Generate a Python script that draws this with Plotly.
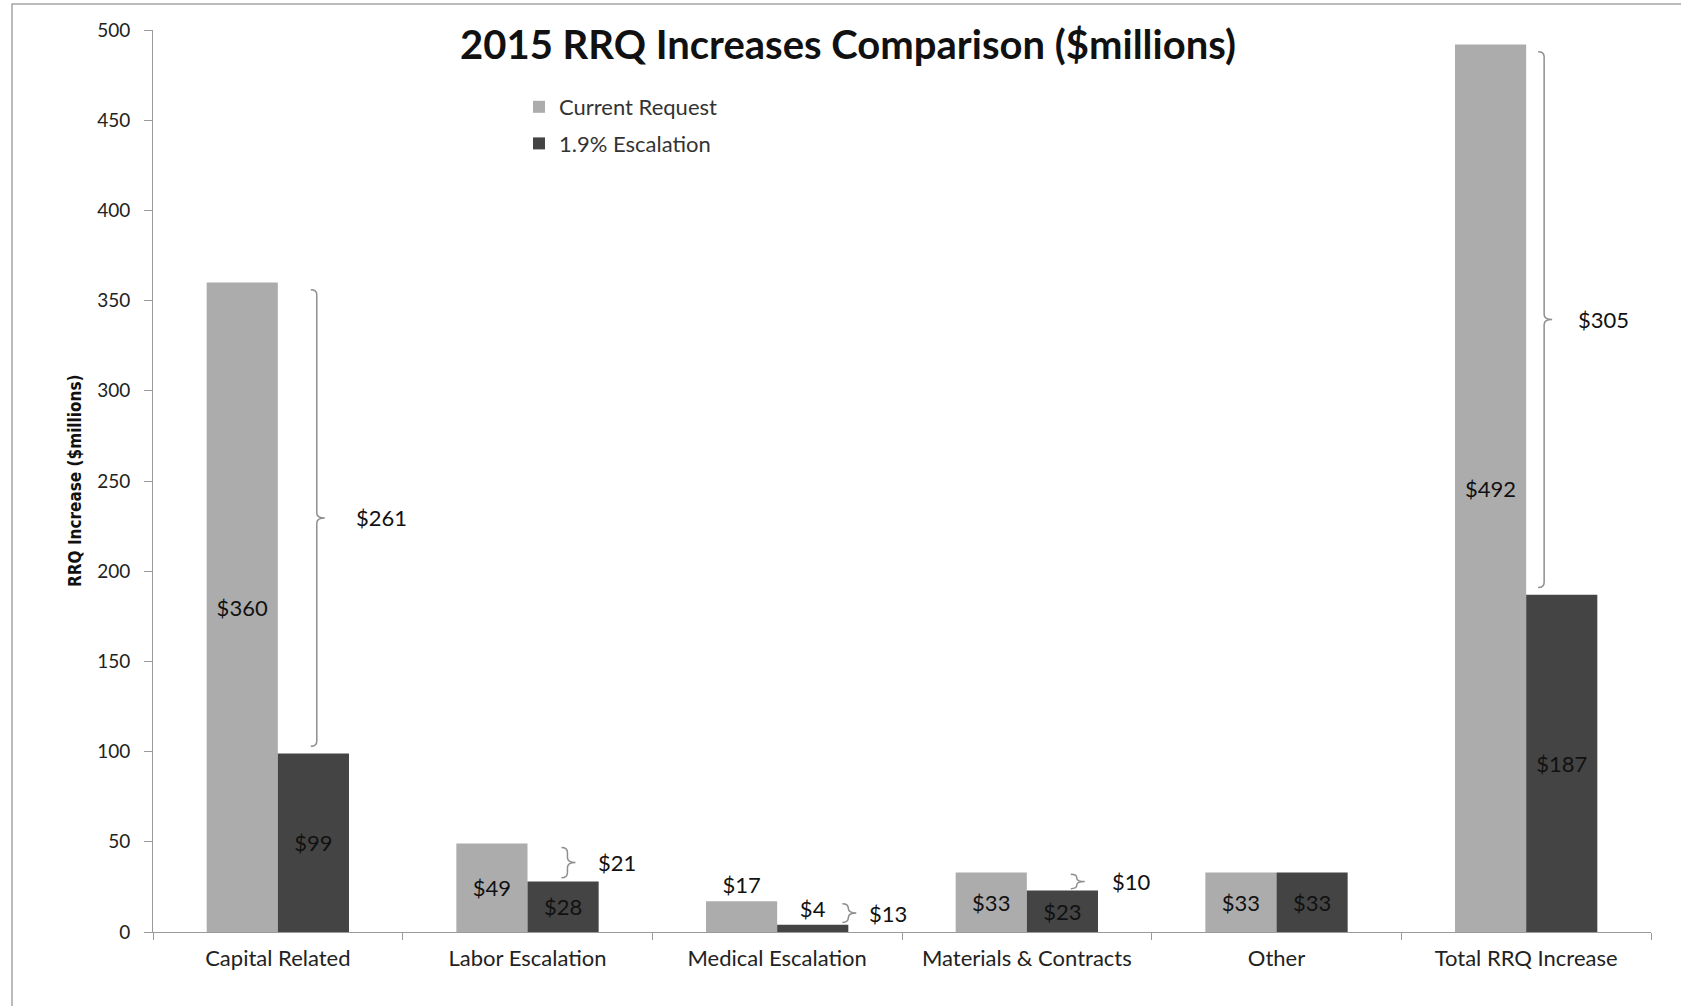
import plotly.graph_objects as go

# ---- data ----
categories = ["Capital Related", "Labor Escalation", "Medical Escalation",
              "Materials & Contracts", "Other", "Total RRQ Increase"]
current_request = [360, 49, 17, 33, 33, 492]
escalation = [99, 28, 4, 23, 33, 187]
series_names = ["Current Request", "1.9% Escalation"]
y_ticks = [0, 50, 100, 150, 200, 250, 300, 350, 400, 450, 500]

# ---- style ----
LIGHT = "#acacac"
DARK = "#444444"
BRACE = "#8f8f8f"
AXIS = "#9a9a9a"
FONT = "Lato, 'Open Sans', sans-serif"
# brace x offset from category centre (in category units) and label gap (px)
brace_offset = [0.156, 0.16, 0.285, 0.2, None, 0.072]
label_gap = [37, 29, 19, 33, None, 32]

x = list(range(len(categories)))

def text_pos(vals):
    return ["outside" if v < 20 else "inside" for v in vals]

fig = go.Figure()
fig.add_trace(go.Bar(
    x=x, y=current_request, name=series_names[0], marker_color=LIGHT,
    marker_line_width=0, legendgroup="a",
    text=[f"${v}" for v in current_request], textposition=text_pos(current_request),
    insidetextanchor="middle", textangle=0,
    textfont=dict(family=FONT, size=22, color="#111"), cliponaxis=False,
))
fig.add_trace(go.Bar(
    x=x, y=escalation, name=series_names[1], marker_color=DARK,
    marker_line_width=0, legendgroup="b",
    text=[f"${v}" for v in escalation], textposition=text_pos(escalation),
    insidetextanchor="middle", textangle=0,
    textfont=dict(family=FONT, size=22, color="#111"), cliponaxis=False,
))

# ---- braces showing difference ----
px_per_x = 1498 / 6.0
px_per_y = 902 / 500.0
shapes = []
annotations = []
for i, (hi, lo) in enumerate(zip(current_request, escalation)):
    diff = hi - lo
    if diff <= 0 or brace_offset[i] is None:
        continue
    inset = min(4.0, 0.1 * diff)
    top = hi - inset
    bot = lo + inset
    mid = (hi + lo) / 2.0
    xb = i + brace_offset[i]
    h = 6 / px_per_x
    n = 8 / px_per_x
    r = min(5 / px_per_y, (top - bot) / 4.0)
    path = (f"M {xb-h},{top} Q {xb},{top} {xb},{top-r} "
            f"L {xb},{mid+r} Q {xb},{mid} {xb+n},{mid} "
            f"Q {xb},{mid} {xb},{mid-r} "
            f"L {xb},{bot+r} Q {xb},{bot} {xb-h},{bot}")
    shapes.append(dict(type="path", path=path, xref="x", yref="y",
                       line=dict(color=BRACE, width=1.5)))
    annotations.append(dict(x=xb, y=mid, xref="x", yref="y", text=f"${diff}",
                            showarrow=False, xanchor="left", yanchor="middle",
                            xshift=label_gap[i],
                            font=dict(family=FONT, size=22, color="#111")))

# y-axis title
annotations.append(dict(x=(75 - 153) / 1498, y=(932 - 481) / 902, xref="paper", yref="paper",
                        text="<b>RRQ Increase ($millions)</b>", textangle=-90,
                        showarrow=False, xanchor="center", yanchor="middle",
                        font=dict(family="'Liberation Sans Narrow', 'DejaVu Sans Condensed', sans-serif",
                                  size=17, color="#111")))

# outer chart border
shapes.append(dict(type="rect", xref="paper", yref="paper",
                   x0=(12 - 153) / 1498, x1=1.2, y0=-0.3, y1=(932 - 4) / 902,
                   line=dict(color="#a5a5a5", width=1.5), fillcolor="rgba(0,0,0,0)"))

fig.update_layout(
    width=1681, height=1006,
    margin=dict(l=153, r=30, t=30, b=74),
    paper_bgcolor="white", plot_bgcolor="white",
    barmode="group", bargap=0.43, bargroupgap=0,
    title=dict(text="<b>2015 RRQ Increases Comparison ($millions)</b>",
               x=848 / 1681, xanchor="center", xref="container",
               y=1 - 45 / 1006, yanchor="middle",
               font=dict(family=FONT, size=40, color="#111")),
    legend=dict(x=(519 - 153) / 1498, y=(932 - 86) / 902, xanchor="left", yanchor="top",
                font=dict(family=FONT, size=22, color="#333"),
                bgcolor="rgba(0,0,0,0)", tracegroupgap=5, traceorder="grouped"),
    showlegend=True,
    shapes=shapes,
    annotations=annotations,
    xaxis=dict(range=[-0.5, 5.5], tickmode="array", tickvals=x, ticktext=categories,
               ticks="", showgrid=False, zeroline=False,
               showline=True, linecolor=AXIS, linewidth=1,
               tickfont=dict(family=FONT, size=22, color="#222"),
               ticklabelstandoff=7,
               minor=dict(tickmode="array", tickvals=[i - 0.5 for i in range(len(categories) + 1)],
                          ticks="outside", ticklen=7, tickcolor=AXIS, tickwidth=1, showgrid=False),
               fixedrange=True),
    yaxis=dict(range=[0, 500], tickmode="array", tickvals=y_ticks,
               ticks="outside", ticklen=8, tickcolor=AXIS, tickwidth=1,
               showgrid=False, zeroline=False,
               showline=True, linecolor=AXIS, linewidth=1,
               tickfont=dict(family=FONT, size=19, color="#222"),
               ticklabelstandoff=10, fixedrange=True),
)

fig.write_html("out.html", config={"displayModeBar": False},
               post_script="document.body.style.margin='0';document.body.style.overflow='hidden';")
